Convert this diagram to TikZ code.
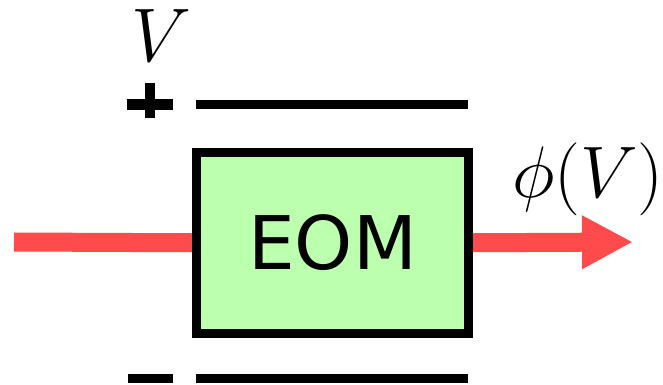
\documentclass[tikz,border=0pt]{standalone}
\usepackage{fix-cm}
\usepackage{fontspec}
\newfontfamily\eomfont{DejaVu Sans}
\usetikzlibrary{arrows.meta,backgrounds}
\definecolor{boxgreen}{HTML}{BBFFAF}
\definecolor{beamred}{HTML}{FF4B4B}
\tikzset{
  plate/.style={line width=9pt, black},
  signbar/.style={line width=11pt, black},
  beam/.style={line width=19pt, beamred},
  eombox/.style={draw=black, line width=9pt, fill=boxgreen, rectangle,
    minimum width=272pt, minimum height=180.5pt, inner sep=0pt,
    font=\eomfont\fontsize{74}{74}\selectfont},
  mathlabel/.style={inner sep=0pt, font=\fontsize{76}{76}\selectfont},
  philabel/.style={inner sep=0pt, font=\fontsize{73}{73}\selectfont}
}
\begin{document}
\begin{tikzpicture}[x=1pt,y=1pt]
\useasboundingbox (0,0) rectangle (663,384);
% box
\node[eombox] (eom) at (332.5,141.25) {EOM};
% beams
\coordinate (in) at (14,142);
\coordinate (tip) at (633,142);
\begin{scope}[on background layer]
\draw[beam] (in) -- (eom.west);
\draw[beam, -{Triangle[length=51pt,width=50pt]}] (eom.east) -- (tip);
\end{scope}
% plates
\coordinate (pl1) at (196,280);
\coordinate (pl2) at (468,280);
\coordinate (ml1) at (196,5.5);
\coordinate (ml2) at (468,5.5);
\draw[plate] (pl1) -- (pl2);
\draw[plate] (ml1) -- (ml2);
% plus sign
\coordinate (ph1) at (127,280);
\coordinate (ph2) at (173,280);
\coordinate (pv1) at (150,301);
\coordinate (pv2) at (150,266);
\draw[signbar] (ph1) -- (ph2);
\draw[line width=10pt] (pv1) -- (pv2);
% minus sign
\coordinate (mh1) at (128,5.5);
\coordinate (mh2) at (173,5.5);
\draw[plate] (mh1) -- (mh2);
% labels
\node[mathlabel] (vlab) at (161,348) {$V$};
\node[philabel] (philab) at (588,205) {$\phi(V)$};
\end{tikzpicture}
\end{document}
